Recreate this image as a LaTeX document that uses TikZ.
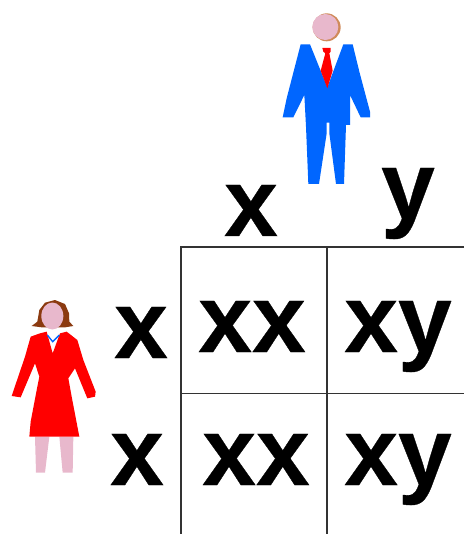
\documentclass[tikz,border=0pt]{standalone}
\usepackage{fontspec}
\setmainfont{Liberation Sans}
\newfontfamily\heavyfont[FakeBold=0.35]{Liberation Sans Bold}
\definecolor{suit}{HTML}{0066FF}
\definecolor{skin}{HTML}{E8B8CC}
\definecolor{hair}{HTML}{8B3A10}
\definecolor{tan}{HTML}{D08A5A}
\tikzset{
  big/.style={font=\fontsize{72.5}{74}\heavyfont,inner sep=0pt,anchor=base,text=black},
  grid/.style={draw=black!80,line width=1.1pt},
}
\newcommand{\Zm}[2]{({(#1)/3+270},{(#2)/3})}
\newcommand{\Zw}[2]{({(#1)/3},{(#2)/3+290})}
\begin{document}
\begin{tikzpicture}[x=0.75pt,y=-0.75pt]
\useasboundingbox (0,0) rectangle (464,534);
% grid
\draw[grid] (464,247.2) -- (181,247.2) -- (181,534);
\draw[grid] (327.2,247.2) -- (327.2,534);
\draw[grid] (181,393.5) -- (464,393.5);
% man
\fill[tan] \Zm{170}{82} circle (14);
\fill[skin] \Zm{166}{81} circle (13);
\fill[suit] \Zm{92}{133} -- \Zm{120}{133} -- \Zm{172}{262} -- \Zm{220}{133} -- \Zm{248}{133} -- \Zm{268}{215} -- \Zm{300}{335} -- \Zm{300}{352} -- \Zm{272}{352} -- \Zm{240}{285} -- \Zm{240}{375} -- \Zm{228}{375} -- \Zm{222}{552} -- \Zm{198}{552} -- \Zm{178}{400} -- \Zm{178}{368} -- \Zm{170}{368} -- \Zm{170}{400} -- \Zm{147}{552} -- \Zm{115}{552} -- \Zm{108}{380} -- \Zm{103}{285} -- \Zm{70}{352} -- \Zm{38}{352} -- \Zm{50}{295} -- cycle;
\fill[red] \Zm{157}{144} -- \Zm{182}{144} -- \Zm{182}{155} -- \Zm{178}{160} -- \Zm{188}{212} -- \Zm{172}{265} -- \Zm{152}{212} -- \Zm{166}{160} -- \Zm{160}{155} -- cycle;
% woman
\fill[skin] \Zw{105}{440} -- \Zw{148}{440} -- \Zw{135}{548} -- \Zw{108}{548} -- cycle;
\fill[skin] \Zw{178}{440} -- \Zw{220}{440} -- \Zw{218}{548} -- \Zw{188}{548} -- cycle;
\fill[hair] \Zw{95}{108} -- \Zw{112}{95} -- \Zw{118}{60} -- \Zw{135}{38} -- \Zw{165}{30} -- \Zw{195}{42} -- \Zw{207}{70} -- \Zw{208}{95} -- \Zw{220}{108} -- \Zw{195}{112} -- \Zw{125}{112} -- cycle;
\fill[skin] \Zw{157}{78} ellipse (11 and 13.5);
\fill[red] \Zw{120}{130} -- \Zw{140}{125} -- \Zw{158}{190} -- \Zw{180}{130} -- \Zw{200}{125} -- \Zw{232}{150} -- \Zw{250}{210} -- \Zw{287}{305} -- \Zw{285}{320} -- \Zw{262}{325} -- \Zw{225}{235} -- \Zw{205}{265} -- \Zw{215}{320} -- \Zw{238}{440} -- \Zw{88}{440} -- \Zw{92}{395} -- \Zw{112}{290} -- \Zw{118}{260} -- \Zw{105}{220} -- \Zw{62}{322} -- \Zw{35}{318} -- \Zw{75}{200} -- \Zw{92}{140} -- cycle;
\draw[suit,line width=1pt] \Zw{142}{135} -- \Zw{158}{155} -- \Zw{178}{135};
% labels
\node[big] (t1) at (251,236) {x};
\node[big] (t2) at (408,219) {y};
\node[big] (l1) at (141,358) {x};
\node[big] (l2) at (137,485) {x};
\node[big] (c11) at (252,352) {xx};
\node[big] (c12) at (398,352) {xy};
\node[big] (c21) at (256,485) {xx};
\node[big] (c22) at (398,485) {xy};
\end{tikzpicture}
\end{document}
